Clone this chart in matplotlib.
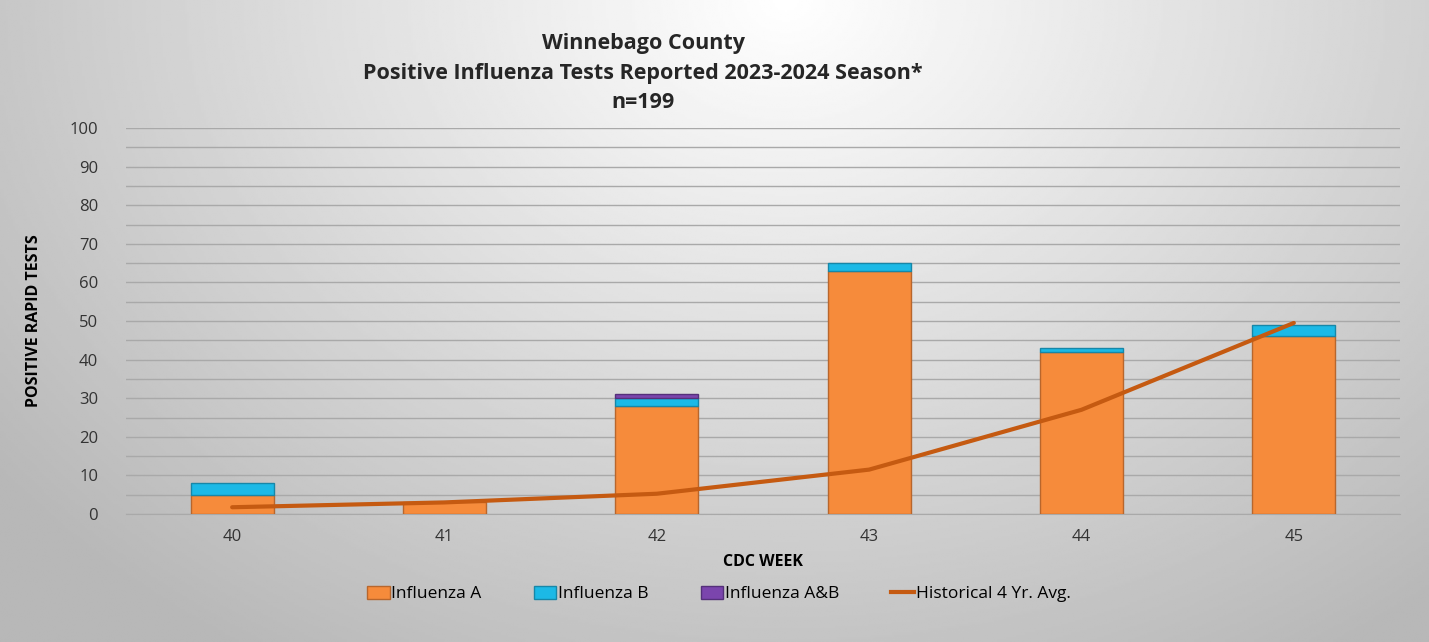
import numpy as np
import matplotlib
matplotlib.use("Agg")
from matplotlib import pyplot as plt
from matplotlib.patches import Patch
from matplotlib.lines import Line2D

plt.rcParams["font.family"] = ["Open Sans", "DejaVu Sans"]

weeks = ["40", "41", "42", "43", "44", "45"]
flu_a = [5, 3, 28, 63, 42, 46]
flu_b = [3, 0, 2, 2, 1, 3]
flu_ab = [0, 0, 1, 0, 0, 0]
hist_avg = [1.75, 3, 5.25, 11.5, 27, 49.5]

c_a, e_a = "#f68b3b", "#b8662c"
c_b, e_b = "#1cb9e6", "#1787a8"
c_ab, e_ab = "#7b45ad", "#55307a"
c_line = "#c55a11"

fig = plt.figure(figsize=(14.29, 6.42), dpi=100)

# background gradient (lighter at the top centre, grey at the edges)
bg = fig.add_axes([0, 0, 1, 1], zorder=-10)
yy, xx = np.mgrid[0:1:300j, 0:1:600j]
r = np.sqrt(((xx - 0.55) / 0.75) ** 2 + ((yy - 0.0) / 1.3) ** 2)
shade = np.clip(1.0 - 0.30 * r, 0.72, 1.0)
bg.imshow(shade, cmap="gray", vmin=0, vmax=1, aspect="auto", extent=[0, 1, 1, 0])
bg.axis("off")

ax = fig.add_axes([126 / 1429, 1 - 514 / 642, 1274 / 1429, 386 / 642])
ax.patch.set_alpha(0)

x = np.arange(len(weeks))
w = 0.39


def stack(vals, bottom, color, edge):
    vals = np.array(vals, dtype=float)
    keep = vals > 0  # skip empty segments so no stray edge line shows
    ax.bar(x[keep], vals[keep], w, bottom=np.array(bottom)[keep], color=color,
           edgecolor=edge, linewidth=1, zorder=3)


zero = np.zeros(len(weeks))
stack(flu_a, zero, c_a, e_a)
stack(flu_b, np.array(flu_a), c_b, e_b)
stack(flu_ab, np.array(flu_a) + np.array(flu_b), c_ab, e_ab)
ax.plot(x, hist_avg, color=c_line, linewidth=3, solid_capstyle="round", zorder=4)

ax.set_xlim(-0.5, len(weeks) - 0.5)
ax.set_ylim(0, 100)
ax.set_yticks(np.arange(0, 101, 10))
ax.set_yticks(np.arange(0, 101, 5), minor=True)
ax.set_xticks(x)
ax.set_xticklabels(weeks)
ax.tick_params(axis="both", which="both", length=0, labelsize=12, colors="#333333")
ax.tick_params(axis="y", pad=20)
ax.tick_params(axis="x", pad=11)
ax.grid(axis="y", which="both", color="#a9a9a9", linewidth=1, zorder=0)
for s in ["top", "right", "left"]:
    ax.spines[s].set_visible(False)
ax.spines["bottom"].set_color("#a9a9a9")

ax.set_ylabel("POSITIVE RAPID TESTS", fontsize=11.5, fontweight="bold", labelpad=20)
ax.set_xlabel("CDC WEEK", fontsize=11.5, fontweight="bold", labelpad=6)

title_kw = dict(ha="center", va="center", fontsize=15.5, fontweight="bold", color="#262626")
fig.text(0.45, 1 - 44 / 642, "Winnebago County", **title_kw)
fig.text(0.45, 1 - 73 / 642, "Positive Influenza Tests Reported 2023-2024 Season*", **title_kw)
fig.text(0.45, 1 - 102 / 642, "n=199", **title_kw)

handles = [
    Patch(facecolor=c_a, edgecolor=e_a, label="Influenza A"),
    Patch(facecolor=c_b, edgecolor=e_b, label="Influenza B"),
    Patch(facecolor=c_ab, edgecolor=e_ab, label="Influenza A&B"),
    Line2D([0], [0], color=c_line, linewidth=3, label="Historical 4 Yr. Avg."),
]
fig.legend(handles=handles, loc="center", bbox_to_anchor=(0.503, 1 - 594 / 642), ncol=4, frameon=False,
           fontsize=12.5, handlelength=1.3, handletextpad=0.1, columnspacing=3.0, handleheight=0.8)

fig.savefig("out.png", dpi=100)
